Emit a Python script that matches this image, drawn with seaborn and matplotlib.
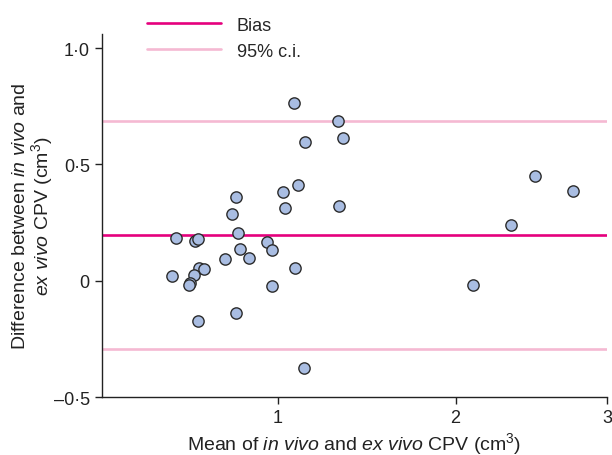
import numpy as np
import pandas as pd
import matplotlib
matplotlib.use("Agg")
import matplotlib.pyplot as plt
import seaborn as sns
from matplotlib.lines import Line2D

# mean of in vivo and ex vivo CPV (cm3)
mean_cpv = [0.528, 0.610, 0.621, 0.796, 0.776, 0.805, 1.027, 1.100, 1.035, 1.322,
            0.947, 0.970, 0.815, 0.744, 0.858, 1.085, 0.511, 0.627, 0.650, 0.605,
            0.588, 0.584, 0.969, 0.624, 0.795, 1.080, 1.313, 1.137, 1.339, 1.133,
            2.510, 2.766, 2.349, 2.108]
# difference in vivo - ex vivo (cm3)
diff_cpv = [0.184, 0.171, 0.178, 0.361, 0.285, 0.204, 0.381, 0.411, 0.311, 0.322,
            0.165, 0.132, 0.138, 0.093, 0.099, 0.055, 0.019, 0.053, 0.049, 0.025,
            -0.010, -0.018, -0.021, -0.172, -0.140, 0.764, 0.688, 0.595, 0.612, -0.377,
            0.451, 0.386, 0.239, -0.018]

bias = 0.196
ci_low = -0.295
ci_high = 0.687

x_ticks = [1, 2, 3]
y_ticks = [-0.5, 0, 0.5, 1.0]
y_ticklabels = ["\u20130\u00b75", "0", "0\u00b75", "1\u00b70"]

sns.set_style("ticks")
plt.rcParams['font.family'] = ['Liberation Sans', 'DejaVu Sans']
plt.rcParams['mathtext.fontset'] = 'custom'
plt.rcParams['mathtext.rm'] = 'Liberation Sans'
plt.rcParams['mathtext.it'] = 'Liberation Sans:italic'

bias_color = '#E5007D'
ci_color = '#F5B9D2'
txt = '#222222'
fs = 13

df = pd.DataFrame({'mean': mean_cpv, 'diff': diff_cpv})

fig = plt.figure(figsize=(6.12, 4.56), dpi=100)
ax = fig.add_axes([0.166, 0.127, 0.826, 0.796])

ax.axhline(bias, color=bias_color, lw=1.9, zorder=1)
ax.axhline(ci_high, color=ci_color, lw=1.9, zorder=1)
ax.axhline(ci_low, color=ci_color, lw=1.9, zorder=1)

sns.scatterplot(data=df, x='mean', y='diff', ax=ax, s=66, color='#A9BDE2',
                edgecolor='#2b2b2b', linewidth=1.0, zorder=3)

# axis is compressed toward larger values
ax.set_xscale('function', functions=(lambda v: np.power(np.clip(v, 1e-9, None), 0.7),
                                     lambda v: np.power(np.clip(v, 1e-9, None), 1 / 0.7)))
ax.set_xlim(0.25, 3.0)
ax.set_ylim(-0.5, 1.06)
ax.set_xticks(x_ticks)
ax.set_xticklabels([str(t) for t in x_ticks])
ax.xaxis.set_minor_locator(matplotlib.ticker.NullLocator())
ax.set_yticks(y_ticks)
ax.set_yticklabels(y_ticklabels)

ax.tick_params(axis='both', labelsize=fs, length=5, width=1, color=txt, labelcolor=txt)
for side in ['top', 'right']:
    ax.spines[side].set_visible(False)
for side in ['left', 'bottom']:
    ax.spines[side].set_linewidth(1.0)
    ax.spines[side].set_color(txt)

ax.set_xlabel(r"Mean of $\mathit{in\ vivo}$ and $\mathit{ex\ vivo}$ CPV (cm$^3$)",
              fontsize=14, color=txt, labelpad=3)
ax.set_ylabel("Difference between $\\mathit{in\\ vivo}$ and\n$\\mathit{ex\\ vivo}$ CPV (cm$^3$)",
              fontsize=14, color=txt, linespacing=1.0)
ax.yaxis.set_label_coords(-0.093, 0.5)

handles = [Line2D([], [], color=bias_color, lw=1.9),
           Line2D([], [], color=ci_color, lw=1.9)]
fig.legend(handles, ['Bias', '95% c.i.'], loc='upper left', bbox_to_anchor=(0.213, 0.997),
           frameon=False, fontsize=fs, handlelength=4.1, handletextpad=0.9,
           labelspacing=0.5)

fig.savefig('out.png', dpi=100)
